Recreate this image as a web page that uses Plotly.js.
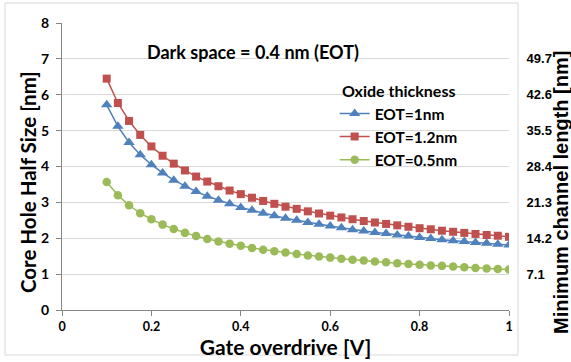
<!DOCTYPE html>
<html>
<head>
<meta charset="utf-8">
<script src="https://cdn.plot.ly/plotly-3.0.1.min.js"></script>
<style>html,body{margin:0;padding:0;background:#fff;}#chart{width:571px;height:362px;}</style>
</head>
<body>
<div id="chart"></div>
<script>
const gateOverdrive = [0.1,0.125,0.15,0.175,0.2,0.225,0.25,0.275,0.3,0.325,0.35,0.375,0.4,0.425,0.45,0.475,0.5,0.525,0.55,0.575,0.6,0.625,0.65,0.675,0.7,0.725,0.75,0.775,0.8,0.825,0.85,0.875,0.9,0.925,0.95,0.975,1.0];
const eot1 = [5.72,5.12,4.67,4.33,4.05,3.82,3.62,3.45,3.30,3.17,3.06,2.96,2.86,2.78,2.70,2.63,2.56,2.50,2.44,2.39,2.34,2.29,2.24,2.20,2.16,2.13,2.09,2.06,2.02,1.99,1.96,1.93,1.91,1.88,1.86,1.83,1.81];
const eot12 = [6.45,5.77,5.27,4.88,4.56,4.30,4.08,3.89,3.72,3.58,3.45,3.33,3.23,3.13,3.04,2.96,2.88,2.82,2.75,2.69,2.63,2.58,2.53,2.48,2.44,2.40,2.36,2.32,2.28,2.25,2.21,2.18,2.15,2.12,2.09,2.07,2.04];
const eot05 = [3.57,3.20,2.92,2.70,2.53,2.38,2.26,2.15,2.06,1.98,1.91,1.85,1.79,1.73,1.68,1.64,1.60,1.56,1.52,1.49,1.46,1.43,1.40,1.38,1.35,1.33,1.30,1.28,1.26,1.24,1.23,1.21,1.19,1.17,1.16,1.14,1.13];
const seriesNames = ["EOT=1nm","EOT=1.2nm","EOT=0.5nm"];
const xTicks = [0,0.2,0.4,0.6,0.8,1];
const xTickText = ["0","0.2","0.4","0.6","0.8","1"];
const rightTicks = [7.1,14.2,21.3,28.4,35.5,42.6,49.7];
const rightTickText = ["7.1","14.2","21.3","28.4","35.5","42.6","49.7"];

const F = "Lato, 'Open Sans', sans-serif";
const A = "'Liberation Sans', Arial, sans-serif";
const traces = [
  {x: gateOverdrive, y: eot1, name: seriesNames[0], mode: "lines+markers",
   line: {color: "#4F81BD", width: 1.5}, marker: {symbol: "triangle-up", size: 10, color: "#4F81BD"}},
  {x: gateOverdrive, y: eot12, name: seriesNames[1], mode: "lines+markers",
   line: {color: "#C0504D", width: 1.5}, marker: {symbol: "square", size: 8, color: "#C0504D"}},
  {x: gateOverdrive, y: eot05, name: seriesNames[2], mode: "lines+markers",
   line: {color: "#9BBB59", width: 1.5}, marker: {symbol: "circle", size: 8.5, color: "#9BBB59"}},
  {x: [], y: [], yaxis: "y2", showlegend: false, hoverinfo: "skip"}
];

const layout = {
  width: 571, height: 362,
  margin: {l: 62, r: 62, t: 23, b: 52},
  paper_bgcolor: "#fff", plot_bgcolor: "#fff",
  font: {family: F, color: "#000", size: 12},
  xaxis: {range: [0, 1], tickvals: xTicks, ticktext: xTickText, showgrid: false, zeroline: false,
    showline: true, linecolor: "#868686", linewidth: 1, ticks: "outside", ticklen: 5, tickcolor: "#868686",
    tickfont: {family: F, size: 12.5, color: "#000", weight: "bold"},
    title: {text: "<b>Gate overdrive [V]</b>", font: {family: F, size: 21}, standoff: 1}},
  yaxis: {range: [0, 8], dtick: 1, showgrid: true, gridcolor: "#d9d9d9", gridwidth: 1, zeroline: false,
    showline: true, linecolor: "#868686", linewidth: 1, ticks: "outside", ticklen: 5, tickcolor: "#868686",
    ticklabelstandoff: 4,
    tickfont: {family: F, size: 14, color: "#000", weight: "bold"}},
  yaxis2: {overlaying: "y", side: "right", range: [0, 56.8], tickvals: rightTicks, ticktext: rightTickText,
    showgrid: false, zeroline: false, showline: false, ticks: "outside", ticklen: 14, tickcolor: "rgba(0,0,0,0)",
    tickfont: {family: A, size: 13, color: "#000", weight: "bold"}},
  legend: {x: 0.61, y: 0.815, xanchor: "left", yanchor: "top", bgcolor: "rgba(0,0,0,0)",
    font: {family: F, size: 15.5, color: "#000", weight: "bold"}, itemwidth: 30, tracegroupgap: 0,
    title: {text: "<b>Oxide thickness</b>", side: "top center", font: {family: F, size: 16}}},
  annotations: [
    {xref: "paper", yref: "paper", x: 0.427, y: 0.899, xanchor: "center", yanchor: "middle", showarrow: false,
     text: "<b>Dark space = 0.4 nm (EOT)</b>", font: {family: F, size: 18, color: "#000"}},
    {xref: "paper", yref: "paper", x: -0.076, y: 0.446, xanchor: "center", yanchor: "middle", showarrow: false, textangle: -90,
     text: "<b>Core Hole Half Size [nm]</b>", font: {family: F, size: 20.5, color: "#000"}},
    {xref: "paper", yref: "paper", x: 1.116, y: 0.411, xanchor: "center", yanchor: "middle", showarrow: false, textangle: -90,
     text: "<b>Minimum channel length [nm]</b>", font: {family: A, size: 20, color: "#000"}}
  ],
  shapes: [{type: "rect", xref: "paper", yref: "paper", x0: -0.1275, x1: 1.0201, y0: -0.1568, y1: 1.0697,
    line: {color: "#d9d9d9", width: 1}, layer: "below"}]
};
Plotly.newPlot("chart", traces, layout, {displayModeBar: false, staticPlot: true});
</script>
</body>
</html>
